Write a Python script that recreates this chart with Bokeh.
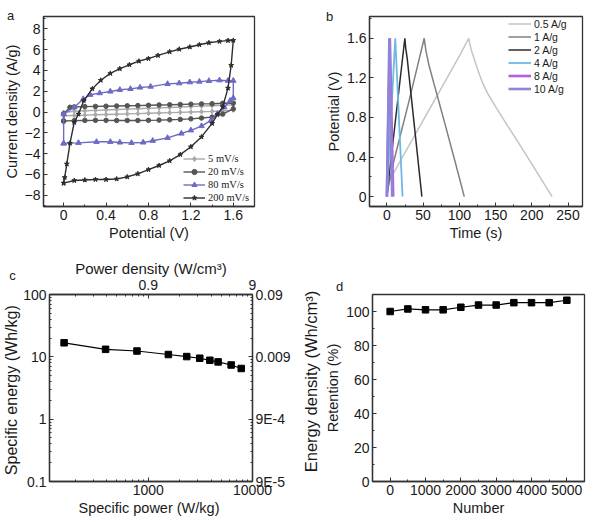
import math
from bokeh.plotting import figure
from bokeh.models import (Range1d, LogAxis, LogScale, SingleIntervalTicker,
                          FixedTicker, Legend, LegendItem, GridBox)
from bokeh.core.properties import value
from bokeh.layouts import column, row
from bokeh.embed import file_html
from bokeh.resources import INLINE

FONT = "Liberation Sans"
SERIF = "Liberation Serif"
INK = "#1a1a1a"

# ---------------- (a) cyclic voltammetry ----------------
cv_labels = ["5 mV/s", "20 mV/s", "80 mV/s", "200 mV/s"]

cv5_v = [0.0, 0.1, 0.2, 0.3, 0.4, 0.5, 0.6, 0.7, 0.8, 0.9, 1.0, 1.1, 1.2, 1.3, 1.4, 1.5, 1.6, 1.6,
         1.5, 1.4, 1.3, 1.2, 1.1, 1.0, 0.9, 0.8, 0.7, 0.6, 0.5, 0.4, 0.3, 0.2, 0.1, 0.0, 0.0]
cv5_i = [-0.36, -0.33, -0.3, -0.27, -0.24, -0.21, -0.18, -0.15, -0.12, -0.09, -0.06, -0.03, 0.0, 0.03, 0.06, 0.1, 0.2, 0.69,
         0.65, 0.61, 0.57, 0.53, 0.48, 0.44, 0.4, 0.36, 0.32, 0.28, 0.24, 0.2, 0.16, 0.12, 0.08, -0.05, -0.36]

cv20_v = [0.0, 0.1, 0.2, 0.3, 0.4, 0.5, 0.6, 0.7, 0.8, 0.9, 1.0, 1.1, 1.2, 1.3, 1.4, 1.5, 1.6, 1.6,
          1.5, 1.4, 1.3, 1.2, 1.1, 1.0, 0.9, 0.8, 0.7, 0.6, 0.5, 0.4, 0.3, 0.2, 0.1, 0.06, 0.0, 0.0]
cv20_i = [-0.87, -0.83, -0.81, -0.8, -0.8, -0.81, -0.81, -0.81, -0.8, -0.78, -0.75, -0.71, -0.66, -0.58, -0.49, -0.2, 0.3, 0.87,
          0.84, 0.8, 0.78, 0.76, 0.73, 0.7, 0.68, 0.65, 0.62, 0.6, 0.58, 0.56, 0.54, 0.52, 0.49, 0.46, -0.17, -0.87]

cv80_v = [0.0, 0.14, 0.31, 0.44, 0.53, 0.64, 0.75, 0.84, 0.98, 1.11, 1.2, 1.3, 1.39, 1.45, 1.515, 1.57, 1.6, 1.6,
          1.55, 1.47, 1.37, 1.28, 1.19, 1.09, 0.98, 0.82, 0.72, 0.63, 0.53, 0.44, 0.34, 0.25, 0.185, 0.1, 0.0, 0.0]
cv80_i = [-3.02, -2.97, -2.87, -2.87, -2.93, -2.97, -2.93, -2.77, -2.49, -2.07, -1.76, -1.35, -0.8, -0.17, 0.46, 1.09, 1.35, 3.02,
          3.02, 3.06, 3.0, 2.93, 2.87, 2.77, 2.71, 2.45, 2.36, 2.23, 2.14, 1.98, 1.82, 1.66, 1.25, 0.45, -0.17, -3.02]

cv200_v = [0.0, 0.1, 0.2, 0.3, 0.4, 0.5, 0.6, 0.7, 0.8, 0.9, 1.0, 1.1, 1.2, 1.3, 1.4, 1.45, 1.5, 1.55, 1.58, 1.6,
           1.55, 1.47, 1.37, 1.28, 1.19, 1.09, 1.0, 0.89, 0.8, 0.71, 0.62, 0.53, 0.44, 0.35, 0.27, 0.19, 0.14, 0.1,
           0.06, 0.03, 0.01, 0.0]
cv200_i = [-6.85, -6.6, -6.55, -6.5, -6.5, -6.45, -6.25, -5.95, -5.55, -5.15, -4.7, -4.1, -3.35, -2.4, -1.1, -0.25, 0.5, 2.3, 4.5, 6.9,
           6.88, 6.8, 6.67, 6.48, 6.26, 6.05, 5.8, 5.45, 5.15, 4.9, 4.55, 4.17, 3.72, 3.06, 2.23, 1.1, -0.2, -1.0,
           -3.0, -5.0, -6.3, -6.85]

# ---------------- (b) galvanostatic charge/discharge ----------------
gcd_labels = ["0.5 A/g", "1 A/g", "2 A/g", "4 A/g", "8 A/g", "10 A/g"]
t_05 = [0, 3, 5, 20, 40, 60, 80, 100, 113, 114.5, 117, 121, 126, 132, 140, 150, 161, 189, 228]
v_05 = [0, 0.15, 0.18, 0.38, 0.64, 0.9, 1.16, 1.42, 1.6, 1.54, 1.47, 1.38, 1.27, 1.15, 1.03, 0.91, 0.78, 0.46, 0]
t_1 = [0, 2, 10, 20, 30, 40, 51.5, 54, 58, 65, 80, 95, 106.8]
v_1 = [0, 0.1, 0.37, 0.66, 0.95, 1.25, 1.6, 1.47, 1.33, 1.14, 0.74, 0.33, 0]
t_2 = [0, 1, 24.8, 26, 28, 48.3]
v_2 = [0, 0.08, 1.6, 1.5, 1.4, 0]
t_4 = [0, 0.5, 11.5, 12.2, 21.6]
v_4 = [0, 0.06, 1.6, 1.5, 0]
t_8 = [0, 4.1, 8.7]
v_8 = [0, 1.6, 0]
t_10 = [0, 3.4, 7.3]
v_10 = [0, 1.6, 0]

# ---------------- (c) Ragone plot ----------------
specific_power = [156, 390, 780, 1560, 2340, 3120, 3900, 4680, 6240, 7800]       # W/kg
specific_energy = [16.8, 13.2, 12.4, 10.9, 10.1, 9.5, 8.8, 8.3, 7.4, 6.5]        # Wh/kg
DENSITY = 0.9   # g/cm3, converts gravimetric to volumetric values (x 1e-3)

# ---------------- (d) cycling stability ----------------
cycles = [0, 500, 1000, 1500, 2000, 2500, 3000, 3500, 4000, 4500, 5000]
retention = [100, 101.5, 101, 101, 102.5, 103.8, 103.8, 105.2, 105.2, 105.2, 106.6]

# panel letters
panel_letters = ["a", "b", "c", "d"]

PAGE_W, PAGE_H = 593, 522
TOP_H = 256
BOT_H = PAGE_H - TOP_H


def base_fig(width, height, left, right, top, bottom, **kw):
    p = figure(width=width, height=height, output_backend="svg", toolbar_location=None,
               min_border_left=left, min_border_right=right, min_border_top=top,
               min_border_bottom=bottom, **kw)
    p.grid.visible = False
    p.outline_line_color = "#333333"
    p.outline_line_width = 1.3
    p.background_fill_color = "white"
    p.border_fill_color = "white"
    return p


def style_axis(ax):
    ax.major_label_text_font = FONT
    ax.major_label_text_font_size = "14px"
    ax.major_label_text_color = INK
    ax.axis_label_text_font = FONT
    ax.axis_label_text_font_size = "14.5px"
    ax.axis_label_text_font_style = "normal"
    ax.axis_label_text_color = INK
    ax.axis_line_color = "#333333"
    ax.axis_line_width = 1.3
    ax.major_tick_line_color = "#333333"
    ax.minor_tick_line_color = "#333333"
    ax.major_tick_in = 4
    ax.major_tick_out = 0
    ax.minor_tick_in = 2
    ax.minor_tick_out = 0
    ax.major_label_standoff = 3
    ax.axis_label_standoff = 2


def legend_style(leg, font, size):
    leg.label_text_font = font
    leg.label_text_font_size = size
    leg.label_text_color = INK
    leg.glyph_width = 22
    leg.glyph_height = 13
    leg.label_height = 13
    leg.label_standoff = 3
    leg.spacing = 0
    leg.padding = 0
    leg.margin = 0
    leg.border_line_alpha = 0
    leg.background_fill_alpha = 0


# ---- panel a ----
pa = base_fig(296, TOP_H, 42, 42, 14, TOP_H - 206, x_range=Range1d(-0.19, 1.8), y_range=Range1d(-9.1, 9.2))
pa.xaxis.ticker = SingleIntervalTicker(interval=0.4, num_minor_ticks=2)
pa.yaxis.ticker = SingleIntervalTicker(interval=2, num_minor_ticks=2)
pa.xaxis.axis_label = "Potential (V)"
pa.yaxis.axis_label = "Current density (A/g)"
for ax in pa.xaxis + pa.yaxis:
    style_axis(ax)

cv_series = [
    (cv5_v, cv5_i, "#a9a9a9", "diamond", 5),
    (cv20_v, cv20_i, "#555555", "circle", 4.5),
    (cv80_v, cv80_i, "#6d6bc4", "triangle", 5.5),
    (cv200_v, cv200_i, "#2e2e2e", "star", 5),
]
items_a = []
for (v, i, col, mk, sz), lab in zip(cv_series, cv_labels):
    ln = pa.line(v, i, line_color=col, line_width=1.4)
    sc = pa.scatter(v, i, marker=mk, size=sz, fill_color=col, line_color=col)
    items_a.append(LegendItem(label=lab, renderers=[ln, sc]))
leg_a = Legend(items=items_a, location=(140, 2))
legend_style(leg_a, SERIF, "10.5px")
pa.add_layout(leg_a)

# ---- panel b ----
pb = base_fig(297, TOP_H, 73, 11, 16, TOP_H - 207, x_range=Range1d(-24, 270), y_range=Range1d(-0.1, 1.82))
pb.xaxis.ticker = SingleIntervalTicker(interval=50, num_minor_ticks=2)
pb.yaxis.ticker = SingleIntervalTicker(interval=0.4, num_minor_ticks=2)
pb.xaxis.axis_label = "Time (s)"
pb.yaxis.axis_label = "Potential (V)"
for ax in pb.xaxis + pb.yaxis:
    style_axis(ax)

gcd_series = [
    (t_05, v_05, "#c4c4c4", 1.5),
    (t_1, v_1, "#808080", 1.5),
    (t_2, v_2, "#2b2b2b", 1.5),
    (t_4, v_4, "#6fb8e6", 1.8),
    (t_8, v_8, "#b25ee3", 2.6),
    (t_10, v_10, "#8d86d6", 2.6),
]
items_b = []
for (t, v, col, w), lab in zip(gcd_series, gcd_labels):
    ln = pb.line(t, v, line_color=col, line_width=w)
    items_b.append(LegendItem(label=lab, renderers=[ln]))
leg_b = Legend(items=items_b, location=(139, 111))
legend_style(leg_b, FONT, "10.5px")
leg_b.glyph_width = 23
pb.add_layout(leg_b)

# ---- panel c ----
x_lo, x_hi = 113, 10000
y_lo, y_hi = 0.1, 100
k = DENSITY / 1000.0
pc = base_fig(316, BOT_H, 44, 64, 293 - TOP_H, 35, x_axis_type="log", y_axis_type="log",
              x_range=Range1d(x_lo, x_hi), y_range=Range1d(y_lo, y_hi))
pc.extra_x_ranges = {"vol_power": Range1d(x_lo * k, x_hi * k)}
pc.extra_x_scales = {"vol_power": LogScale()}
pc.extra_y_ranges = {"vol_energy": Range1d(y_lo * k, y_hi * k)}
pc.extra_y_scales = {"vol_energy": LogScale()}


def log_minors(decades):
    return [d * m for d in decades for m in range(2, 10)]


pc.xaxis.ticker = FixedTicker(ticks=[100, 1000, 10000], minor_ticks=log_minors([100, 1000]))
pc.xaxis.major_label_overrides = {100: "100", 1000: "1000", 10000: "10000"}
pc.yaxis.ticker = FixedTicker(ticks=[0.1, 1, 10, 100], minor_ticks=log_minors([0.1, 1, 10]))
pc.yaxis.major_label_overrides = {0.1: "0.1", 1: "1", 10: "10", 100: "100"}
pc.xaxis.axis_label = "Specific power  (W/kg)"
pc.yaxis.axis_label = "Specific energy  (Wh/kg)"

top_ticks = [100 * k, 1000 * k, 10000 * k]
top_ax = LogAxis(x_range_name="vol_power",
                 ticker=FixedTicker(ticks=top_ticks, minor_ticks=log_minors([100 * k, 1000 * k])),
                 major_label_overrides={top_ticks[0]: "0.09", top_ticks[1]: "0.9", top_ticks[2]: "9"},
                 axis_label="Power density (W/cm³)")
right_ticks = [0.1 * k, 1 * k, 10 * k, 100 * k]
right_ax = LogAxis(y_range_name="vol_energy",
                   ticker=FixedTicker(ticks=right_ticks, minor_ticks=log_minors([0.1 * k, 1 * k, 10 * k])),
                   major_label_overrides={right_ticks[0]: "9E-5", right_ticks[1]: "9E-4",
                                          right_ticks[2]: "0.009", right_ticks[3]: "0.09"})
pc.add_layout(top_ax, "above")
pc.add_layout(right_ax, "right")
for ax in pc.xaxis + pc.yaxis + [top_ax, right_ax]:
    style_axis(ax)
top_ax.major_label_standoff = 5
top_ax.axis_label_standoff = 0
top_ax.axis_label_text_font_size = "15px"
pc.yaxis.axis_label_text_font_size = "16px"
pc.yaxis.axis_label_standoff = 0

pc.line(specific_power, specific_energy, line_color="black", line_width=1.2)
pc.scatter(specific_power, specific_energy, marker="square", size=6.5, fill_color="black", line_color="black")

# ---- panel d ----
pd_ = base_fig(277, BOT_H, 56, 9, 292 - TOP_H, 41, x_range=Range1d(-500, 5500), y_range=Range1d(0, 110))
pd_.xaxis.ticker = SingleIntervalTicker(interval=1000, num_minor_ticks=2)
pd_.yaxis.ticker = SingleIntervalTicker(interval=20, num_minor_ticks=2)
pd_.xaxis.axis_label = "Number"
pd_.yaxis.axis_label = "Retention (%)"
for ax in pd_.xaxis + pd_.yaxis:
    style_axis(ax)
pd_.line(cycles, retention, line_color="black", line_width=1.2)
pd_.scatter(cycles, retention, marker="square", size=6.5, fill_color="black", line_color="black")

# ---- transparent page-sized layer for panel letters and the volumetric energy title ----
page = figure(width=PAGE_W, height=PAGE_H, output_backend="svg", toolbar_location=None,
              x_range=Range1d(0, PAGE_W), y_range=Range1d(PAGE_H, 0), min_border=0,
              x_axis_location=None, y_axis_location=None)
page.grid.visible = False
page.outline_line_color = None
page.background_fill_alpha = 0
page.border_fill_alpha = 0
page.text(x=[10, 329, 12, 339], y=[15, 16, 275, 286], text=panel_letters,
          text_font=value(FONT), text_font_size="13px", text_color=INK,
          text_align="center", text_baseline="middle")
page.text(x=[310], y=[381], text=["Energy density (Wh/cm³)"], angle=math.pi / 2,
          text_font=value(FONT), text_font_size="16.5px", text_color=INK,
          text_align="center", text_baseline="middle")

panels = column(row(pa, pb), row(pc, pd_))
layout = GridBox(children=[(panels, 0, 0), (page, 0, 0)])
open("out.html", "w").write(file_html(layout, INLINE))
